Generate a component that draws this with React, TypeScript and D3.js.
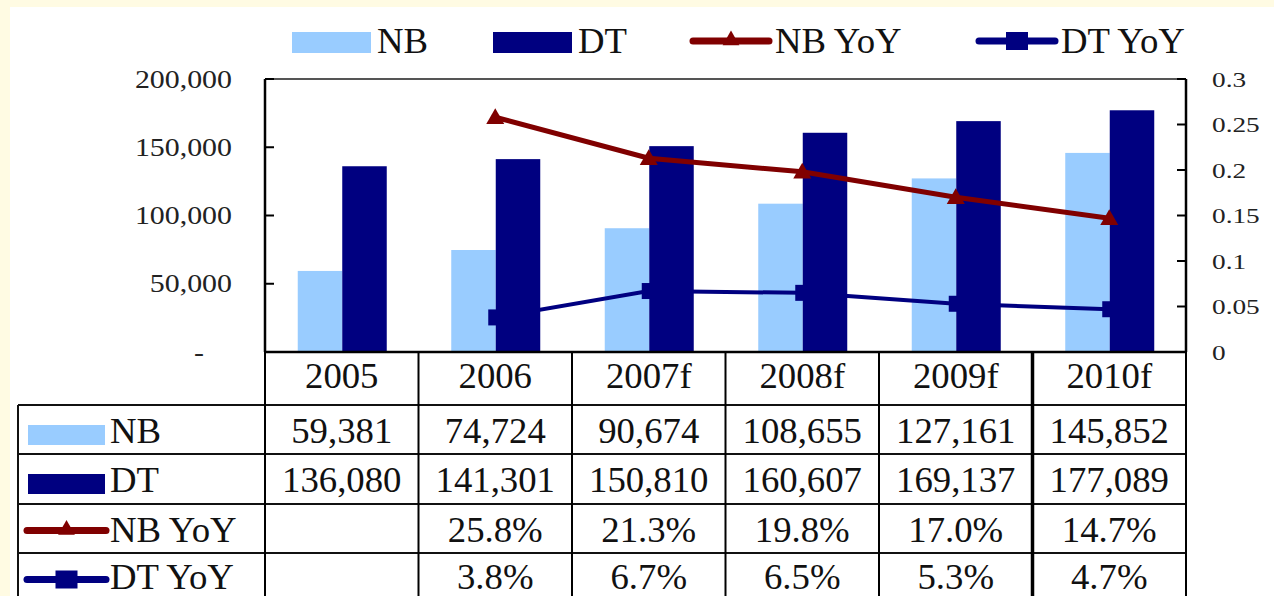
import React from "react";
import * as d3 from "d3";

const width = 1274;
const height = 596;
const plot = { left: 265, right: 1186, top: 79, bottom: 352 };

const categories = ["2005", "2006", "2007f", "2008f", "2009f", "2010f"];
const nbValues = [59381, 74724, 90674, 108655, 127161, 145852];
const dtValues = [136080, 141301, 150810, 160607, 169137, 177089];
const nbYoY = [null, 0.258, 0.213, 0.198, 0.17, 0.147];
const dtYoY = [null, 0.038, 0.067, 0.065, 0.053, 0.047];

const nbColor = "#99CCFF";
const dtColor = "#000080";
const nbYoYColor = "#800000";
const dtYoYColor = "#000080";
const font = "'Liberation Serif', 'Times New Roman', serif";

// table rows (y edges)
const rowEdges = [352, 405, 454, 504, 553, 602];
const tableLeft = 18;

const fmtNum = d3.format(",");
const fmtPct = d3.format(".1%");

function Marker({ kind, x, y, color, size }) {
  if (kind === "tri") {
    const h = size;
    return (
      <path
        d={`M${x},${y - h * 0.6}L${x + h * 0.6},${y + h * 0.45}L${x - h * 0.6},${y + h * 0.45}Z`}
        fill={color}
      />
    );
  }
  return <rect x={x - size / 2} y={y - size / 2} width={size} height={size} fill={color} />;
}

function LineKey({ x, y, color, kind, w = 83 }) {
  return (
    <g>
      <line x1={x + 3} x2={x + w - 3} y1={y} y2={y} stroke={color} strokeWidth={7} strokeLinecap="round" />
      {kind === "tri" ? (
        <Marker kind="tri" x={x + w / 2} y={y - 2} color={color} size={14} />
      ) : (
        <rect x={x + w / 2 - 11} y={y - 9} width={22} height={18} fill={color} />
      )}
    </g>
  );
}

// wide serif text, like the source
function WText({ x, y, anchor = "start", size = 35, sx = 1.05, children }) {
  return (
    <text
      transform={`translate(${x},${y}) scale(${sx},1)`}
      textAnchor={anchor}
      fontSize={size}
      fill="#111"
    >
      {children}
    </text>
  );
}

export default function App() {
  const x = d3.scaleBand().domain(categories).range([plot.left, plot.right]).padding(0);
  const bw = x.bandwidth();
  const sub = d3.scaleBand().domain(["NB", "DT"]).range([bw / 2 - 44, bw / 2 + 45]).padding(0);
  const y = d3.scaleLinear().domain([0, 200000]).range([plot.bottom, plot.top]);
  const y2 = d3.scaleLinear().domain([0, 0.3]).range([plot.bottom, plot.top]);
  const cx = (c) => x(c) + bw / 2;

  const line = d3
    .line()
    .defined((d) => d[1] != null)
    .x((d) => cx(d[0]))
    .y((d) => y2(d[1]));

  const nbPts = categories.map((c, i) => [c, nbYoY[i]]);
  const dtPts = categories.map((c, i) => [c, dtYoY[i]]);

  const leftTicks = y.ticks(4);
  const rightTicks = y2.ticks(6);

  const colEdges = categories.map((c) => x(c)).concat([plot.right]);

  const rows = [
    { name: "NB", vals: nbValues.map((v) => fmtNum(v)) },
    { name: "DT", vals: dtValues.map((v) => fmtNum(v)) },
    { name: "NB YoY", vals: nbYoY.map((v) => (v == null ? "" : fmtPct(v))) },
    { name: "DT YoY", vals: dtYoY.map((v) => (v == null ? "" : fmtPct(v))) },
  ];

  const legend = [
    { name: "NB", x: 292, type: "bar", color: nbColor },
    { name: "DT", x: 493, type: "bar", color: dtColor },
    { name: "NB YoY", x: 690, type: "tri", color: nbYoYColor },
    { name: "DT YoY", x: 976, type: "sq", color: dtYoYColor },
  ];

  return (
    <svg
      width={width}
      height={height}
      style={{ position: "absolute", left: 0, top: 0 }}
      fontFamily={font}
    >
      <rect x={0} y={0} width={width} height={height} fill="#FFFBE3" />
      <rect x={10} y={7} width={width - 10} height={height - 7} fill="#ffffff" />

      {/* legend */}
      {legend.map((l) => (
        <g key={l.name}>
          {l.type === "bar" ? (
            <rect x={l.x} y={32} width={79} height={21} fill={l.color} />
          ) : (
            <LineKey x={l.x} y={41} color={l.color} kind={l.type} w={82} />
          )}
          <WText x={l.x + 85} y={53}>{l.name}</WText>
        </g>
      ))}

      {/* bars */}
      {categories.map((c, i) => (
        <g key={c}>
          <rect
            x={x(c) + sub("NB")}
            y={y(nbValues[i])}
            width={sub.bandwidth()}
            height={plot.bottom - y(nbValues[i])}
            fill={nbColor}
          />
          <rect
            x={x(c) + sub("DT")}
            y={y(dtValues[i])}
            width={sub.bandwidth()}
            height={plot.bottom - y(dtValues[i])}
            fill={dtColor}
          />
        </g>
      ))}

      {/* lines */}
      <path d={line(nbPts)} fill="none" stroke={nbYoYColor} strokeWidth={5} />
      {nbPts.filter((d) => d[1] != null).map((d) => (
        <Marker key={d[0]} kind="tri" x={cx(d[0])} y={y2(d[1])} color={nbYoYColor} size={15} />
      ))}
      <path d={line(dtPts)} fill="none" stroke={dtYoYColor} strokeWidth={4} />
      {dtPts.filter((d) => d[1] != null).map((d) => (
        <rect
          key={d[0]}
          x={cx(d[0]) - 7}
          y={y2(d[1]) - 8}
          width={14}
          height={16}
          fill={dtYoYColor}
        />
      ))}

      {/* plot frame */}
      <line x1={plot.left} x2={plot.right} y1={plot.top} y2={plot.top} stroke="#555" strokeWidth={2} />
      <line x1={plot.left} x2={plot.left} y1={plot.top} y2={plot.bottom} stroke="#000" strokeWidth={2.5} />
      <line x1={plot.right} x2={plot.right} y1={plot.top} y2={plot.bottom} stroke="#000" strokeWidth={2.5} />

      {/* left axis */}
      {leftTicks.map((t) => (
        <g key={t}>
          <line x1={plot.left} x2={plot.left + 9} y1={y(t)} y2={y(t)} stroke="#000" strokeWidth={2} />
          <text
            transform={`translate(${t === 0 ? 204 : 232},${y(t) + 8.5}) scale(1.15,1)`}
            textAnchor="end"
            fontSize={26}
            fill="#222"
          >
            {t === 0 ? "-" : fmtNum(t)}
          </text>
        </g>
      ))}

      {/* right axis */}
      {rightTicks.map((t) => (
        <g key={t}>
          <line x1={plot.right - 9} x2={plot.right} y1={y2(t)} y2={y2(t)} stroke="#000" strokeWidth={2} />
          <text
            transform={`translate(1212,${y2(t) + 7.5}) scale(1.3,1)`}
            fontSize={21}
            fill="#222"
          >
            {d3.format(".2~f")(t)}
          </text>
        </g>
      ))}

      {/* table grid */}
      <line x1={plot.left} x2={plot.right} y1={rowEdges[0]} y2={rowEdges[0]} stroke="#000" strokeWidth={2.5} />
      {rowEdges.slice(1, 5).map((r) => (
        <line key={r} x1={tableLeft} x2={plot.right} y1={r} y2={r} stroke="#111" strokeWidth={2} />
      ))}
      <line x1={tableLeft} x2={tableLeft} y1={rowEdges[1]} y2={height} stroke="#111" strokeWidth={2} />
      {colEdges.map((e, i) => (
        <line
          key={i}
          x1={e}
          x2={e}
          y1={i === colEdges.length - 1 ? plot.bottom : rowEdges[0]}
          y2={height}
          stroke="#000"
          strokeWidth={i === 5 ? 3.5 : 2}
        />
      ))}

      {/* category labels */}
      {categories.map((c) => (
        <WText key={c} x={cx(c)} y={388} anchor="middle">{c}</WText>
      ))}

      {/* table rows */}
      {rows.map((r, ri) => {
        const top = rowEdges[ri + 1];
        const mid = top + (rowEdges[ri + 2] - top) / 2;
        const base = ri === 3 ? 589 : mid + 13;
        return (
          <g key={r.name}>
            {ri === 0 && <rect x={28} y={425} width={77} height={20} fill={nbColor} />}
            {ri === 1 && <rect x={28} y={474} width={77} height={20} fill={dtColor} />}
            {ri === 2 && <LineKey x={24} y={mid + 2} color={nbYoYColor} kind="tri" w={85} />}
            {ri === 3 && <LineKey x={24} y={mid + 2} color={dtYoYColor} kind="sq" w={85} />}
            <WText x={110} y={base}>{r.name}</WText>
            {r.vals.map((v, i) => (
              <WText key={i} x={cx(categories[i])} y={base} anchor="middle">{v}</WText>
            ))}
          </g>
        );
      })}
    </svg>
  );
}
